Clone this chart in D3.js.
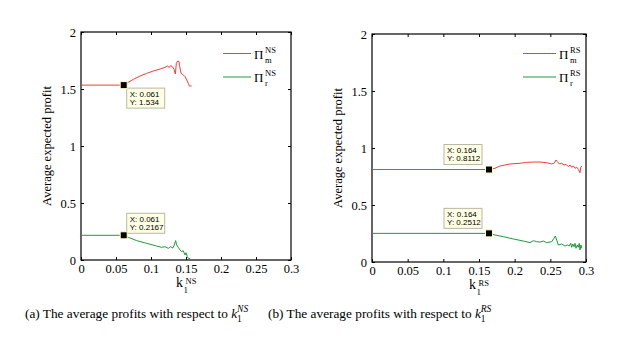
<!DOCTYPE html>
<html>
<head>
<meta charset="utf-8">
<script src="https://cdn.jsdelivr.net/npm/d3@7/dist/d3.min.js"></script>
<style>
  body { margin: 0; background: #fff; }
  svg { display: block; }
  .tick text { font-family: "Liberation Serif", serif; font-size: 12.5px; fill: #000; }
  .tick line { stroke: #000; }
</style>
</head>
<body>
<div id="chart"></div>
<script>
// tick values and labels shared by both panels
var xTicks = [0, 0.05, 0.1, 0.15, 0.2, 0.25, 0.3];
var xTickLabels = ["0", "0.05", "0.1", "0.15", "0.2", "0.25", "0.3"];
var yTicks = [0, 0.5, 1, 1.5, 2];
var yTickLabels = ["0", "0.5", "1", "1.5", "2"];

// (a) NS scheme: manufacturer profit
var nsMK = [0, 0.061, 0.0676, 0.0748, 0.0843, 0.0938, 0.1033, 0.1129, 0.12, 0.1233, 0.1262, 0.128, 0.1305, 0.1329, 0.1348, 0.1362, 0.1381, 0.14, 0.141, 0.1429, 0.1462, 0.1486, 0.151, 0.1533, 0.1548, 0.158];
var nsM  = [1.534, 1.534, 1.559, 1.585, 1.614, 1.637, 1.658, 1.675, 1.690, 1.702, 1.690, 1.705, 1.696, 1.673, 1.632, 1.725, 1.746, 1.740, 1.696, 1.638, 1.623, 1.608, 1.579, 1.550, 1.526, 1.526];
// (a) NS scheme: retailer profit
var nsRK = [0, 0.061, 0.0676, 0.0795, 0.0938, 0.108, 0.1152, 0.12, 0.1248, 0.128, 0.131, 0.1333, 0.1352, 0.1367, 0.139, 0.1414, 0.1438, 0.146, 0.1486, 0.15, 0.1519, 0.1533, 0.156];
var nsR  = [0.2167, 0.2167, 0.199, 0.170, 0.146, 0.123, 0.111, 0.117, 0.102, 0.117, 0.105, 0.132, 0.170, 0.132, 0.111, 0.088, 0.073, 0.082, 0.044, 0.064, 0.029, 0.015, 0.012];

// (b) RS scheme: manufacturer profit
var rsMK = [0, 0.164, 0.1724, 0.1794, 0.1935, 0.2075, 0.2168, 0.2262, 0.2355, 0.2449, 0.2519, 0.2551, 0.2579, 0.2598, 0.2626, 0.2659, 0.2692, 0.272, 0.2752, 0.2776, 0.28, 0.2822, 0.2846, 0.287, 0.2892, 0.2916, 0.2926, 0.2944];
var rsM  = [0.8112, 0.8112, 0.822, 0.842, 0.860, 0.866, 0.874, 0.877, 0.877, 0.871, 0.860, 0.866, 0.895, 0.880, 0.860, 0.866, 0.851, 0.857, 0.836, 0.851, 0.831, 0.842, 0.822, 0.831, 0.813, 0.783, 0.831, 0.842];
// (b) RS scheme: retailer profit
var rsRK = [0, 0.164, 0.1724, 0.1841, 0.1981, 0.2121, 0.2215, 0.2262, 0.2309, 0.2355, 0.2402, 0.2449, 0.2519, 0.2551, 0.257, 0.2589, 0.2612, 0.2659, 0.2706, 0.2738, 0.2766, 0.2786, 0.28, 0.2814, 0.2832, 0.2846, 0.286, 0.2878, 0.2892, 0.2906, 0.2916, 0.293, 0.294];
var rsR  = [0.2512, 0.2512, 0.237, 0.222, 0.202, 0.184, 0.170, 0.187, 0.178, 0.175, 0.184, 0.170, 0.178, 0.208, 0.228, 0.193, 0.149, 0.158, 0.140, 0.149, 0.140, 0.164, 0.129, 0.158, 0.134, 0.164, 0.120, 0.149, 0.129, 0.164, 0.105, 0.149, 0.120];

// data tips
var tipX = [0.061, 0.164];
var tipYm = [1.534, 0.8112];
var tipYr = [0.2167, 0.2512];

var captions = ["(a) The average profits with respect to ", "(b) The average profits with respect to "];
var schemes = ["NS", "RS"];

var redColor = "#f53c3c";
var greenColor = "#1f9a3c";

var svg = d3.select("#chart").append("svg")
  .attr("width", 631)
  .attr("height", 340);

function drawPanel(p) {
  var x = d3.scaleLinear().domain([0, 0.3]).range([p.left, p.right]);
  var y = d3.scaleLinear().domain([0, 2]).range([p.bottom, p.top]);
  var g = svg.append("g");

  // axes with inward ticks on all four sides
  g.append("g")
    .attr("transform", `translate(0,${p.bottom})`)
    .call(d3.axisBottom(x).tickValues(xTicks).tickSizeInner(-3).tickSizeOuter(0).tickPadding(4)
      .tickFormat((d, i) => xTickLabels[i]));
  g.append("g")
    .attr("transform", `translate(0,${p.top})`)
    .call(d3.axisTop(x).tickValues(xTicks).tickSizeInner(-3).tickSizeOuter(0).tickFormat(""));
  g.append("g")
    .attr("transform", `translate(${p.left},0)`)
    .call(d3.axisLeft(y).tickValues(yTicks).tickSizeInner(-3).tickSizeOuter(0).tickPadding(5)
      .tickFormat((d, i) => yTickLabels[i]));
  g.append("g")
    .attr("transform", `translate(${p.right},0)`)
    .call(d3.axisRight(y).tickValues(yTicks).tickSizeInner(-3).tickSizeOuter(0).tickFormat(""));
  g.selectAll(".domain").remove();

  g.append("rect")
    .attr("x", p.left).attr("y", p.top)
    .attr("width", p.right - p.left).attr("height", p.bottom - p.top)
    .attr("fill", "none").attr("stroke", "#000").attr("stroke-width", 1.2);

  var line = d3.line().x(d => x(d[0])).y(d => y(d[1]));

  g.append("path")
    .datum(p.mk.map((k, i) => [k, p.m[i]]))
    .attr("d", line).attr("fill", "none").attr("stroke", redColor).attr("stroke-width", 1);
  g.append("path")
    .datum(p.rk.map((k, i) => [k, p.r[i]]))
    .attr("d", line).attr("fill", "none").attr("stroke", greenColor).attr("stroke-width", 1);

  // data tip boxes and markers
  [[p.tipY[0], p.tipOff[0]], [p.tipY[1], p.tipOff[1]]].forEach(function(t) {
    var mx = x(p.tipX), my = y(t[0]);
    var bx = mx + t[1][0], by = my + t[1][1];
    g.append("rect")
      .attr("x", bx).attr("y", by).attr("width", 38).attr("height", 20)
      .attr("fill", "#ffffe4").attr("stroke", "#b8b8a8").attr("stroke-width", 1);
    var tt = g.append("text")
      .attr("font-family", "Liberation Sans, Arial, sans-serif")
      .attr("font-size", 8).attr("fill", "#000");
    tt.append("tspan").attr("x", bx + 3).attr("y", by + 8.5).text("X: " + p.tipX);
    tt.append("tspan").attr("x", bx + 3).attr("y", by + 16.5).text("Y: " + t[0]);
    g.append("rect")
      .attr("x", mx - 3.5).attr("y", my - 3.5).attr("width", 7).attr("height", 7)
      .attr("fill", "#000").attr("stroke", "#ffffc8").attr("stroke-width", 1);
  });

  // legend
  [[redColor, "m", 53.5], [greenColor, "r", 77]].forEach(function(l) {
    g.append("line")
      .attr("x1", p.legX).attr("x2", p.legX + p.legLen)
      .attr("y1", l[2]).attr("y2", l[2])
      .attr("stroke", l[0]).attr("stroke-width", 1);
    var lx = p.legX + p.legLen + 3;
    g.append("text").attr("x", lx).attr("y", l[2] + 5)
      .attr("font-family", "Liberation Serif, serif").attr("font-size", 13).text("\u03A0");
    g.append("text").attr("x", lx + 11).attr("y", l[2] - 1)
      .attr("font-family", "Liberation Serif, serif").attr("font-size", 8.5).text(p.scheme);
    g.append("text").attr("x", lx + 11).attr("y", l[2] + 9)
      .attr("font-family", "Liberation Serif, serif").attr("font-size", 8.5).text(l[1]);
  });

  // axis titles
  g.append("text")
    .attr("transform", `translate(${p.left - 30},${(p.top + p.bottom) / 2}) rotate(-90)`)
    .attr("text-anchor", "middle")
    .attr("font-family", "Liberation Serif, serif").attr("font-size", 12.5)
    .text("Average expected profit");

  var cx = (p.left + p.right) / 2;
  g.append("text").attr("x", cx - 10).attr("y", p.bottom + 27)
    .attr("font-family", "Liberation Serif, serif").attr("font-size", 14).text("k");
  g.append("text").attr("x", cx - 2.5).attr("y", p.bottom + 33)
    .attr("font-family", "Liberation Serif, serif").attr("font-size", 9).text("1");
  g.append("text").attr("x", cx - 0.5).attr("y", p.bottom + 23.5)
    .attr("font-family", "Liberation Serif, serif").attr("font-size", 8.5).text(p.scheme);

  // caption
  var cap = g.append("text").attr("x", p.capX).attr("y", 318)
    .attr("font-family", "Liberation Serif, serif").attr("font-size", 13.3);
  cap.append("tspan").text(p.caption);
  cap.append("tspan").attr("font-style", "italic").text("k");
  var capEnd = cap.node().getComputedTextLength();
  g.append("text").attr("x", p.capX + capEnd).attr("y", 322)
    .attr("font-family", "Liberation Serif, serif").attr("font-size", 9.5).text("1");
  g.append("text").attr("x", p.capX + capEnd).attr("y", 312)
    .attr("font-family", "Liberation Serif, serif").attr("font-size", 9.5)
    .attr("font-style", "italic").text(p.scheme);
}

drawPanel({
  left: 81, right: 291, top: 32, bottom: 260,
  mk: nsMK, m: nsM, rk: nsRK, r: nsR,
  tipX: tipX[0], tipY: [tipYm[0], tipYr[0]], tipOff: [[3, 3], [3, -22]],
  legX: 223, legLen: 28, scheme: schemes[0],
  caption: captions[0], capX: 25
});

drawPanel({
  left: 372, right: 586, top: 34, bottom: 262,
  mk: rsMK, m: rsM, rk: rsRK, r: rsR,
  tipX: tipX[1], tipY: [tipYm[1], tipYr[1]], tipOff: [[-45, -25], [-45, -25]],
  legX: 523, legLen: 33, scheme: schemes[1],
  caption: captions[1], capX: 268
});
</script>
</body>
</html>
